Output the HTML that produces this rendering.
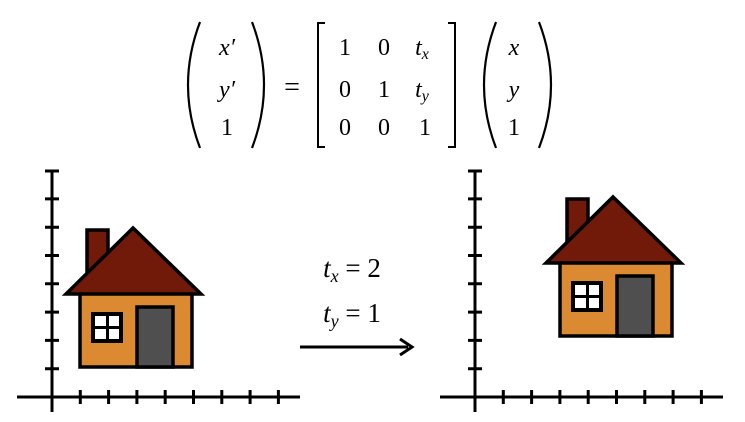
<!DOCTYPE html>
<html><head><meta charset="utf-8"><style>
html,body{margin:0;padding:0;background:#fff;width:745px;height:422px;overflow:hidden}
svg text{font-family:"Liberation Serif",serif;fill:#000}
</style></head><body>
<svg width="745" height="422" viewBox="0 0 745 422">
<g font-size="24">
<path d="M200,22 Q176,85 200,148" fill="none" stroke="#000" stroke-width="2.2"/>
<path d="M252,22 Q276,85 252,148" fill="none" stroke="#000" stroke-width="2.2"/>
<text x="227" y="55" text-anchor="middle" font-style="italic">x′</text>
<text x="227" y="97" text-anchor="middle" font-style="italic">y′</text>
<text x="227" y="135" text-anchor="middle">1</text>
<text x="292" y="96" text-anchor="middle" font-size="28">=</text>
<polyline points="325,23 318,23 318,147 325,147" fill="none" stroke="#000" stroke-width="2"/>
<polyline points="448,23 455,23 455,147 448,147" fill="none" stroke="#000" stroke-width="2"/>
<g text-anchor="middle">
<text x="345" y="55">1</text><text x="384" y="55">0</text><text x="422" y="55" font-style="italic">t<tspan font-size="16" dy="4">x</tspan></text>
<text x="345" y="97">0</text><text x="384" y="97">1</text><text x="422" y="97" font-style="italic">t<tspan font-size="16" dy="4">y</tspan></text>
<text x="345" y="135">0</text><text x="384" y="135">0</text><text x="425" y="135">1</text>
</g>
<path d="M496,22 Q472,85 496,148" fill="none" stroke="#000" stroke-width="2.2"/>
<path d="M539,22 Q563,85 539,148" fill="none" stroke="#000" stroke-width="2.2"/>
<text x="514" y="55" text-anchor="middle" font-style="italic">x</text>
<text x="514" y="97" text-anchor="middle" font-style="italic">y</text>
<text x="514" y="135" text-anchor="middle">1</text>
</g>
<defs>
<g id="axes">
<line x1="-35" y1="0" x2="248" y2="0" stroke="#000" stroke-width="3"/>
<line x1="0" y1="-226" x2="0" y2="15" stroke="#000" stroke-width="3"/>
<path d="M28.3,-7V7M56.6,-7V7M84.9,-7V7M113.2,-7V7M141.5,-7V7M169.8,-7V7M198.1,-7V7M226.4,-7V7
M-7,-28.3H7M-7,-56.6H7M-7,-84.9H7M-7,-113.2H7M-7,-141.5H7M-7,-169.8H7M-7,-198.1H7M-7,-226H7" stroke="#000" stroke-width="3"/>
</g>
<g id="house">
<polygon points="87,230 108,230 108,270 87,285" fill="#711a0a" stroke="#000" stroke-width="3.5"/>
<rect x="80" y="293" width="112" height="74" fill="#dc8a32" stroke="#000" stroke-width="3.5"/>
<polygon points="66,294 133,228 201,294" fill="#711a0a" stroke="#000" stroke-width="3.5" stroke-linejoin="miter"/>
<rect x="91" y="312" width="32" height="31" fill="#000"/>
<rect x="95" y="316" width="11" height="10" fill="#fff"/><rect x="109" y="316" width="10" height="10" fill="#fff"/>
<rect x="95" y="329" width="11" height="10" fill="#fff"/><rect x="109" y="329" width="10" height="10" fill="#fff"/>
<rect x="137" y="307" width="36" height="60" fill="#4f4f4f" stroke="#000" stroke-width="3.5"/>
</g>
</defs>
<use href="#axes" x="52" y="397"/>
<use href="#house"/>
<use href="#axes" x="475" y="397"/>
<use href="#house" x="480" y="-31"/>
<g font-size="27" font-style="italic" text-anchor="middle">
<text x="352" y="277">t<tspan font-size="18" dy="5">x</tspan><tspan dy="-5" font-style="normal"> = 2</tspan></text>
<text x="352" y="322">t<tspan font-size="18" dy="5">y</tspan><tspan dy="-5" font-style="normal"> = 1</tspan></text>
</g>
<g>
<line x1="300" y1="347" x2="408" y2="347" stroke="#000" stroke-width="3"/>
<polyline points="400,339 412,347 400,355" fill="none" stroke="#000" stroke-width="3"/>
</g>
</svg>
</body></html>
